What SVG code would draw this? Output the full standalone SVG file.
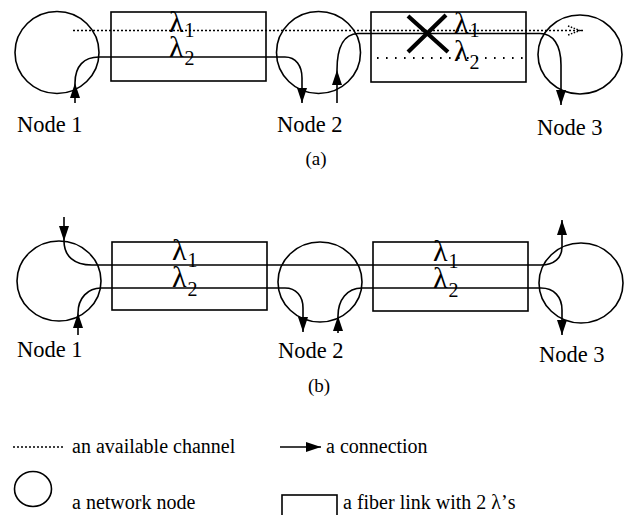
<svg xmlns="http://www.w3.org/2000/svg" width="626" height="515" viewBox="0 0 626 515">
<style>
text{font-family:'Liberation Serif','Times New Roman','DejaVu Serif',serif;fill:#000}
.shape{fill:none;stroke:#000;stroke-width:1.6}
.conn{fill:none;stroke:#000;stroke-width:1.6}
.avail{fill:none;stroke:#000;stroke-width:1.6;stroke-dasharray:2,2}
.avail2{fill:none;stroke:#000;stroke-width:1.8;stroke-dasharray:1.6,7.4}
.lbl{font-size:22.5px}
.cap{font-size:19px}
.lam{font-size:30px}
.sub{font-size:20px}
.leg{font-size:20px}
</style>
<defs>
<marker id="ah" markerUnits="userSpaceOnUse" markerWidth="15" markerHeight="10" refX="15" refY="5" orient="auto">
<path d="M0,0 L15,5 L0,10 z" fill="#000"/>
</marker>
</defs>

<!-- Panel (a) -->
<g id="a-node1"><ellipse class="shape" cx="57" cy="52.5" rx="42" ry="41"/><text class="lbl" x="17" y="132">Node 1</text></g>
<g id="a-node2"><ellipse class="shape" cx="318.5" cy="52.5" rx="42" ry="41"/><text class="lbl" x="277" y="132">Node 2</text></g>
<g id="a-node3"><ellipse class="shape" cx="580" cy="54.5" rx="42" ry="39.5"/><text class="lbl" x="537" y="135">Node 3</text></g>
<g id="a-link1"><rect class="shape" x="111" y="12" width="155" height="69"/>
<text class="lam" x="169" y="32">λ<tspan class="sub" dx="1" dy="5">1</tspan></text>
<text class="lam" x="169" y="57">λ<tspan class="sub" dx="1" dy="8">2</tspan></text></g>
<g id="a-link2"><rect class="shape" x="371" y="12" width="155" height="70"/>
<text class="lam" x="454" y="33">λ<tspan class="sub" dx="1" dy="4">1</tspan></text>
<text class="lam" x="454" y="61">λ<tspan class="sub" dx="1" dy="8">2</tspan></text>
<path d="M408,16 L448,52 M446,15 L408,52" stroke="#000" stroke-width="4.2" fill="none"/></g>
<text class="cap" x="316" y="165" text-anchor="middle">(a)</text>

<g id="a-connectors">
<path class="avail" d="M73,30.5 L583,30.5"/>
<path d="M568,26 L580,30.5 L568,35" fill="none" stroke="#000" stroke-width="1.5" stroke-dasharray="1.5,1.5"/>
<path class="avail2" d="M377,58 L525,58"/>
<path class="conn" d="M75,103 L75,83" marker-end="url(#ah)"/>
<path class="conn" d="M75,83 C75,66 84,57 99,57 L285,57 C296,57 302,66 302,78 L302,103" marker-end="url(#ah)"/>
<path class="conn" d="M337,103 L337,70" marker-end="url(#ah)"/>
<path class="conn" d="M337,70 C337,45 345,34 358,33.5 L540,33.5 C553,33.5 561,45 561,65 L561,105" marker-end="url(#ah)"/>
</g>

<!-- Panel (b) -->
<g id="b-node1"><ellipse class="shape" cx="59" cy="281" rx="42" ry="40"/><text class="lbl" x="17" y="357">Node 1</text></g>
<g id="b-node2"><ellipse class="shape" cx="320" cy="282" rx="42" ry="40"/><text class="lbl" x="278" y="358">Node 2</text></g>
<g id="b-node3"><ellipse class="shape" cx="581" cy="283" rx="42" ry="40"/><text class="lbl" x="539" y="362">Node 3</text></g>
<g id="b-link1"><rect class="shape" x="112" y="242" width="155" height="68"/>
<text class="lam" x="172" y="260">λ<tspan class="sub" dx="1" dy="7">1</tspan></text>
<text class="lam" x="172" y="287">λ<tspan class="sub" dx="1" dy="9">2</tspan></text></g>
<g id="b-link2"><rect class="shape" x="373" y="242" width="155" height="69"/>
<text class="lam" x="433" y="261">λ<tspan class="sub" dx="1" dy="7">1</tspan></text>
<text class="lam" x="433" y="288">λ<tspan class="sub" dx="1" dy="9">2</tspan></text></g>
<text class="cap" x="319" y="392" text-anchor="middle">(b)</text>

<g id="b-connectors">
<path class="conn" d="M64,217 L64,241" marker-end="url(#ah)"/>
<path class="conn" d="M64,241 C64,256 74,265 92,265 L541,265 C554,265 562,258 562,247 L562,220" marker-end="url(#ah)"/>
<path class="conn" d="M78,335 L78,313" marker-end="url(#ah)"/>
<path class="conn" d="M78,313 C78,298 88,288 101,288 L285,288 C296,288 303,296 303,308 L303,332" marker-end="url(#ah)"/>
<path class="conn" d="M338,333 L338,316" marker-end="url(#ah)"/>
<path class="conn" d="M338,316 C338,300 347,288 362,288 L541,288 C554,288 562,297 562,310 L562,335" marker-end="url(#ah)"/>
</g>

<!-- Legend -->
<g id="legend">
<path class="avail" d="M13,447 L65,447"/>
<text class="leg" x="72" y="453">an available channel</text>
<path class="conn" d="M280,447 L321,447" marker-end="url(#ah)"/>
<text class="leg" x="326" y="453">a connection</text>
<ellipse class="shape" cx="33" cy="489" rx="18.5" ry="17.5"/>
<text class="leg" x="72" y="509">a network node</text>
<rect class="shape" x="282" y="495" width="55" height="30"/>
<text class="leg" x="343" y="509">a fiber link with 2 λ’s</text>
</g>
</svg>
